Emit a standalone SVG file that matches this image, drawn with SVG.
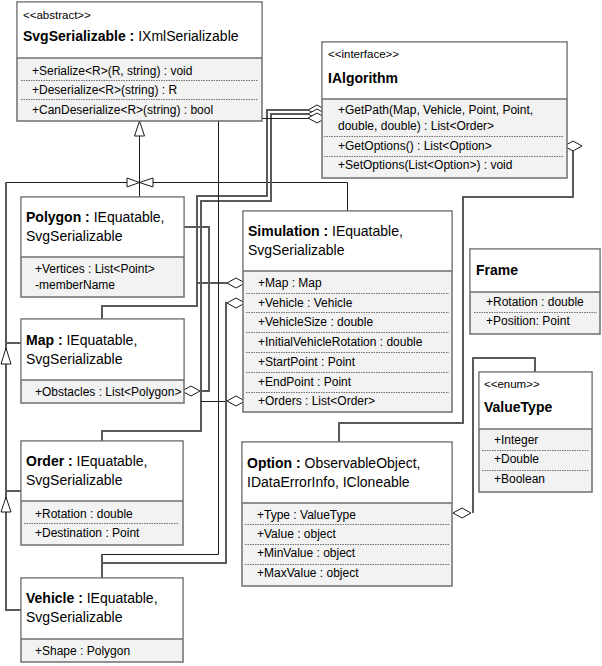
<svg xmlns="http://www.w3.org/2000/svg" width="602" height="666" viewBox="0 0 602 666">
<style>
.box{fill:#f2f2f2;stroke:#6e6e6e;stroke-width:1.5}
.hdr{fill:#ffffff}
.hl{stroke:#6e6e6e;stroke-width:1.5}
.sep{stroke:#707070;stroke-width:1;stroke-dasharray:1.5,1}
text{font-family:"Liberation Sans",Arial,sans-serif;fill:#000}
.st{font-size:11.5px}
.ti{font-size:14px}
.b{font-weight:bold}
.it{font-size:12px}
.thin{fill:none;stroke:#1a1a1a;stroke-width:1}
.thick{fill:none;stroke:#5a5a5a;stroke-width:2}
.hd{fill:#fff;stroke:#1a1a1a;stroke-width:1}
</style>
<defs>
<path id="dia" d="M-9,0 L0,-5 L9,0 L0,5Z"/>
</defs>

<g id="connectors">
<path class="thin" d="M139.5,136 V197 M6,182.5 H127 M153,182.5 H347.5 V211"/>
<path class="thick" d="M6,182 V610 H21 M6,343 H21 M6,491 H21"/>
<polygon class="hd" points="139.5,121 134.5,136 144.5,136"/>
<polygon class="hd" points="139.5,182.5 127,178 127,187"/>
<polygon class="hd" points="139.5,182.5 153,178 153,187"/>
<polygon class="hd" points="6,348 1,364 11,364"/>
<polygon class="hd" points="6,497 1,512 11,512"/>
<path class="thick" d="M102,319 V306 H197 V283 H227 M197,306 V196 H267 V110 H308"/>
<path class="thick" d="M102,441 V431 H201 V201 H271 V114 H308"/>
<path class="thin" d="M201,401.5 H227"/>
<path class="thick" d="M184,227 H209 V391 H200"/>
<path class="thin" d="M308,118.5 H218.5 V554.5 H102"/>
<path class="thick" d="M227,303 H226 V563 H102 M102,578 V554"/>
<path class="thick" d="M339,442 V423 H463 V197 H573 V151"/>
<path class="thick" d="M535,372 V358 H473 V513"/>
<use href="#dia" class="hd" x="317" y="110"/>
<use href="#dia" class="hd" x="317" y="114"/>
<use href="#dia" class="hd" x="317" y="118"/>
<use href="#dia" class="hd" x="573" y="146"/>
<use href="#dia" class="hd" x="236" y="283"/>
<use href="#dia" class="hd" x="236" y="303"/>
<use href="#dia" class="hd" x="236" y="401"/>
<use href="#dia" class="hd" x="191" y="391"/>
<use href="#dia" class="hd" x="462" y="513"/>
</g>

<g id="SvgSerializable">
<rect class="box" x="17" y="2" width="245" height="119"/>
<rect class="hdr" x="17.75" y="2.75" width="243.5" height="55.25"/>
<line class="hl" x1="17" y1="58" x2="262" y2="58"/>
<text class="st" x="23" y="19">&lt;&lt;abstract&gt;&gt;</text>
<text class="ti" x="23" y="41"><tspan class="b">SvgSerializable :</tspan> IXmlSerializable</text>
<text class="it" x="32" y="75">+Serialize&lt;R&gt;(R, string) : void</text>
<line class="sep" x1="21" y1="80.5" x2="258" y2="80.5"/>
<text class="it" x="32" y="94">+Deserialize&lt;R&gt;(string) : R</text>
<line class="sep" x1="21" y1="99.5" x2="258" y2="99.5"/>
<text class="it" x="32" y="114">+CanDeserialize&lt;R&gt;(string) : bool</text>
</g>

<g id="IAlgorithm">
<rect class="box" x="322" y="42" width="245" height="136"/>
<rect class="hdr" x="322.75" y="42.75" width="243.5" height="56.25"/>
<line class="hl" x1="322" y1="99" x2="567" y2="99"/>
<text class="st" x="328" y="58">&lt;&lt;interface&gt;&gt;</text>
<text class="ti b" x="328" y="83">IAlgorithm</text>
<text class="it" x="338" y="114">+GetPath(Map, Vehicle, Point, Point,</text>
<text class="it" x="338" y="130">double, double) : List&lt;Order&gt;</text>
<line class="sep" x1="324" y1="136.5" x2="564" y2="136.5"/>
<text class="it" x="338" y="150">+GetOptions() : List&lt;Option&gt;</text>
<line class="sep" x1="324" y1="156.5" x2="564" y2="156.5"/>
<text class="it" x="338" y="169">+SetOptions(List&lt;Option&gt;) : void</text>
</g>

<g id="Polygon">
<rect class="box" x="21" y="197" width="163" height="100"/>
<rect class="hdr" x="21.75" y="197.75" width="161.5" height="59.25"/>
<line class="hl" x1="21" y1="257" x2="184" y2="257"/>
<text class="ti" x="26" y="222"><tspan class="b">Polygon :</tspan> IEquatable,</text>
<text class="ti" x="26" y="241">SvgSerializable</text>
<text class="it" x="35" y="273">+Vertices : List&lt;Point&gt;</text>
<text class="it" x="35" y="289">-memberName</text>
</g>

<g id="Map">
<rect class="box" x="21" y="319" width="163" height="84"/>
<rect class="hdr" x="21.75" y="319.75" width="161.5" height="60.25"/>
<line class="hl" x1="21" y1="380" x2="184" y2="380"/>
<text class="ti" x="26" y="345"><tspan class="b">Map :</tspan> IEquatable,</text>
<text class="ti" x="26" y="364">SvgSerializable</text>
<text class="it" x="35" y="396">+Obstacles : List&lt;Polygon&gt;</text>
</g>

<g id="Order">
<rect class="box" x="21" y="441" width="162" height="104"/>
<rect class="hdr" x="21.75" y="441.75" width="160.5" height="59.25"/>
<line class="hl" x1="21" y1="501" x2="183" y2="501"/>
<text class="ti" x="26" y="466"><tspan class="b">Order :</tspan> IEquatable,</text>
<text class="ti" x="26" y="485">SvgSerializable</text>
<text class="it" x="35" y="518">+Rotation : double</text>
<line class="sep" x1="24" y1="523.5" x2="179" y2="523.5"/>
<text class="it" x="35" y="537">+Destination : Point</text>
</g>

<g id="Vehicle">
<rect class="box" x="21" y="578" width="162" height="84"/>
<rect class="hdr" x="21.75" y="578.75" width="160.5" height="60.25"/>
<line class="hl" x1="21" y1="639" x2="183" y2="639"/>
<text class="ti" x="26" y="603"><tspan class="b">Vehicle :</tspan> IEquatable,</text>
<text class="ti" x="26" y="622">SvgSerializable</text>
<text class="it" x="35" y="655">+Shape : Polygon</text>
</g>

<g id="Simulation">
<rect class="box" x="243" y="211" width="209" height="201"/>
<rect class="hdr" x="243.75" y="211.75" width="207.5" height="59.25"/>
<line class="hl" x1="243" y1="271" x2="452" y2="271"/>
<text class="ti" x="248" y="236"><tspan class="b">Simulation :</tspan> IEquatable,</text>
<text class="ti" x="248" y="255">SvgSerializable</text>
<text class="it" x="258" y="287">+Map : Map</text>
<line class="sep" x1="246" y1="293.5" x2="449" y2="293.5"/>
<text class="it" x="258" y="307">+Vehicle : Vehicle</text>
<line class="sep" x1="246" y1="312.5" x2="449" y2="312.5"/>
<text class="it" x="258" y="326">+VehicleSize : double</text>
<line class="sep" x1="246" y1="332.5" x2="449" y2="332.5"/>
<text class="it" x="258" y="346">+InitialVehicleRotation : double</text>
<line class="sep" x1="246" y1="352.5" x2="449" y2="352.5"/>
<text class="it" x="258" y="366">+StartPoint : Point</text>
<line class="sep" x1="246" y1="372.5" x2="449" y2="372.5"/>
<text class="it" x="258" y="386">+EndPoint : Point</text>
<line class="sep" x1="246" y1="392.5" x2="449" y2="392.5"/>
<text class="it" x="258" y="405">+Orders : List&lt;Order&gt;</text>
</g>

<g id="Frame">
<rect class="box" x="470" y="249" width="130" height="85"/>
<rect class="hdr" x="470.75" y="249.75" width="128.5" height="42.25"/>
<line class="hl" x1="470" y1="292" x2="600" y2="292"/>
<text class="ti b" x="476" y="275">Frame</text>
<text class="it" x="486" y="306">+Rotation : double</text>
<line class="sep" x1="474" y1="312.5" x2="597" y2="312.5"/>
<text class="it" x="486" y="325">+Position: Point</text>
</g>

<g id="ValueType">
<rect class="box" x="479" y="372" width="113" height="120"/>
<rect class="hdr" x="479.75" y="372.75" width="111.5" height="56.25"/>
<line class="hl" x1="479" y1="429" x2="592" y2="429"/>
<text class="st" x="484" y="388">&lt;&lt;enum&gt;&gt;</text>
<text class="ti b" x="484" y="412">ValueType</text>
<text class="it" x="494" y="444">+Integer</text>
<line class="sep" x1="482" y1="450.5" x2="589" y2="450.5"/>
<text class="it" x="494" y="463">+Double</text>
<line class="sep" x1="482" y1="470.5" x2="589" y2="470.5"/>
<text class="it" x="494" y="483">+Boolean</text>
</g>

<g id="Option">
<rect class="box" x="242" y="442" width="210" height="144"/>
<rect class="hdr" x="242.75" y="442.75" width="208.5" height="60.25"/>
<line class="hl" x1="242" y1="503" x2="452" y2="503"/>
<text class="ti" x="247" y="468"><tspan class="b">Option :</tspan> ObservableObject,</text>
<text class="ti" x="247" y="487">IDataErrorInfo, ICloneable</text>
<text class="it" x="257" y="519">+Type : ValueType</text>
<line class="sep" x1="245" y1="524.5" x2="449" y2="524.5"/>
<text class="it" x="257" y="538">+Value : object</text>
<line class="sep" x1="245" y1="544.5" x2="449" y2="544.5"/>
<text class="it" x="257" y="557">+MinValue : object</text>
<line class="sep" x1="245" y1="564.5" x2="449" y2="564.5"/>
<text class="it" x="257" y="577">+MaxValue : object</text>
</g>
</svg>
